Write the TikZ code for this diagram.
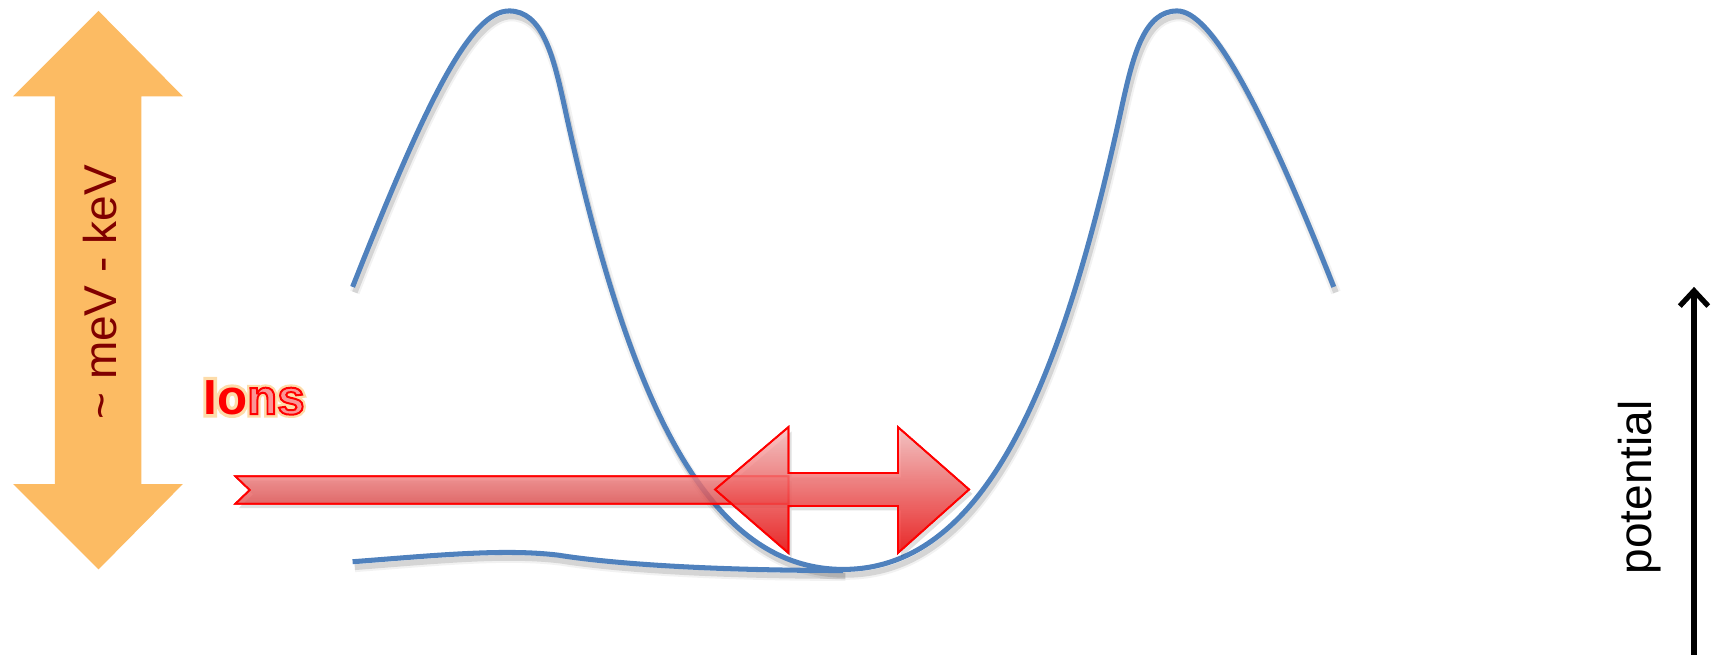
\documentclass[tikz,border=0pt]{standalone}
\usepackage{fontspec}
\setmainfont{Liberation Sans}
\usetikzlibrary{arrows.meta}
\definecolor{orng}{RGB}{252,187,99}
\definecolor{dred}{RGB}{128,0,0}
\definecolor{cblue}{RGB}{79,129,189}
\definecolor{glowc}{RGB}{253,220,170}
\definecolor{pinkfill}{RGB}{250,150,150}
\newcommand\trmode[2]{\special{pdf:literal direct #1 Tr #2 w}}
\newcommand\trreset{\special{pdf:literal direct 0 Tr}}
\newcommand\wellcurve{(322,262) .. controls (390,90) and (430,10) .. (465,10)
 .. controls (495,10) and (505,50) .. (515,95)
 .. controls (570,350) and (640,520) .. (770,520)
 .. controls (900,520) and (970,350) .. (1025,95)
 .. controls (1035,50) and (1045,10) .. (1075,10)
 .. controls (1105,10) and (1150,90) .. (1218,262)}
\newcommand\floorcurve{(322,513) .. controls (400,507) and (460,501) .. (510,507)
 .. controls (560,515) and (650,521) .. (770,521)}
\tikzset{
  curve/.style={draw=cblue, line width=2.3pt},
  curveshadowa/.style={draw=black, line width=4.5pt, opacity=0.05},
  curveshadowb/.style={draw=black, line width=2.6pt, opacity=0.12},
  redarrow/.style={draw=red, line width=0.8pt, fill opacity=0.82},
  lbl/.style={inner sep=0pt, font=\fontsize{21}{25}\selectfont},
}
\begin{document}
\begin{tikzpicture}[x=0.5pt,y=-0.5pt]
\useasboundingbox (0,0) rectangle (1568,598);
% orange double arrow
\fill[orng] (90,10) -- (167,88) -- (129,88) -- (129,442) -- (167,442) -- (90,520)
  -- (12,442) -- (50,442) -- (50,88) -- (12,88) -- cycle;
\node[lbl, rotate=90, text=dred] (ev) at (91,267) {\textasciitilde{} meV - keV};
% potential curves
\begin{scope}[shift={(2,5)}]
\draw[curveshadowa] \wellcurve;
\draw[curveshadowa] \floorcurve;
\draw[curveshadowb] \wellcurve;
\draw[curveshadowb] \floorcurve;
\end{scope}
\draw[curve] \wellcurve;
\draw[curve] \floorcurve;
% arrow shadows
\begin{scope}[shift={(3,4)}]
\fill[black, opacity=0.12] (215,435) -- (720,435) -- (720,460) -- (215,460) -- (228,447.5) -- cycle;
\fill[black, opacity=0.12] (653,447) -- (720,390) -- (720,432) -- (820,432) -- (820,390)
  -- (885,447) -- (820,505) -- (820,462) -- (720,462) -- (720,505) -- cycle;
\end{scope}
% red long arrow
\shade[redarrow, top color={rgb,255:red,240;green,130;blue,130}, bottom color={rgb,255:red,225;green,80;blue,80}]
  (215,435) -- (720,435) -- (720,460) -- (215,460) -- (228,447.5) -- cycle;
\draw[red, line width=0.8pt] (215,435) -- (720,435) -- (720,460) -- (215,460) -- (228,447.5) -- cycle;
% red double arrow
\shade[redarrow, top color={rgb,255:red,246;green,190;blue,190}, middle color={rgb,255:red,230;green,90;blue,90}, bottom color={rgb,255:red,235;green,0;blue,0}]
  (653,447) -- (720,390) -- (720,432) -- (820,432) -- (820,390)
  -- (885,447) -- (820,505) -- (820,462) -- (720,462) -- (720,505) -- cycle;
\draw[red, line width=0.8pt] (653,447) -- (720,390) -- (720,432) -- (820,432) -- (820,390)
  -- (885,447) -- (820,505) -- (820,462) -- (720,462) -- (720,505) -- cycle;
% Ions label with glow
\node[inner sep=0pt, font=\fontsize{22.5}{26}\selectfont\bfseries, text=glowc] (ionsglow) at (232,363)
  {\trmode{2}{3}Ions\trreset};
\node[inner sep=0pt, font=\fontsize{22.5}{26}\selectfont\bfseries, text=red] (ions) at (232,363)
  {Io{\color{pinkfill}\special{pdf:literal direct 1 0 0 RG}\trmode{2}{0.9}ns\trreset}};
% potential axis
\coordinate (pbot) at (1547,598);
\coordinate (ptop) at (1547,262);
\draw[line width=2.4pt, -{Straight Barb[length=7pt,width=13pt,line width=2.4pt]}] (pbot) -- (ptop);
\node[lbl, rotate=90] (pot) at (1497,445) {potential};
\end{tikzpicture}
\end{document}
